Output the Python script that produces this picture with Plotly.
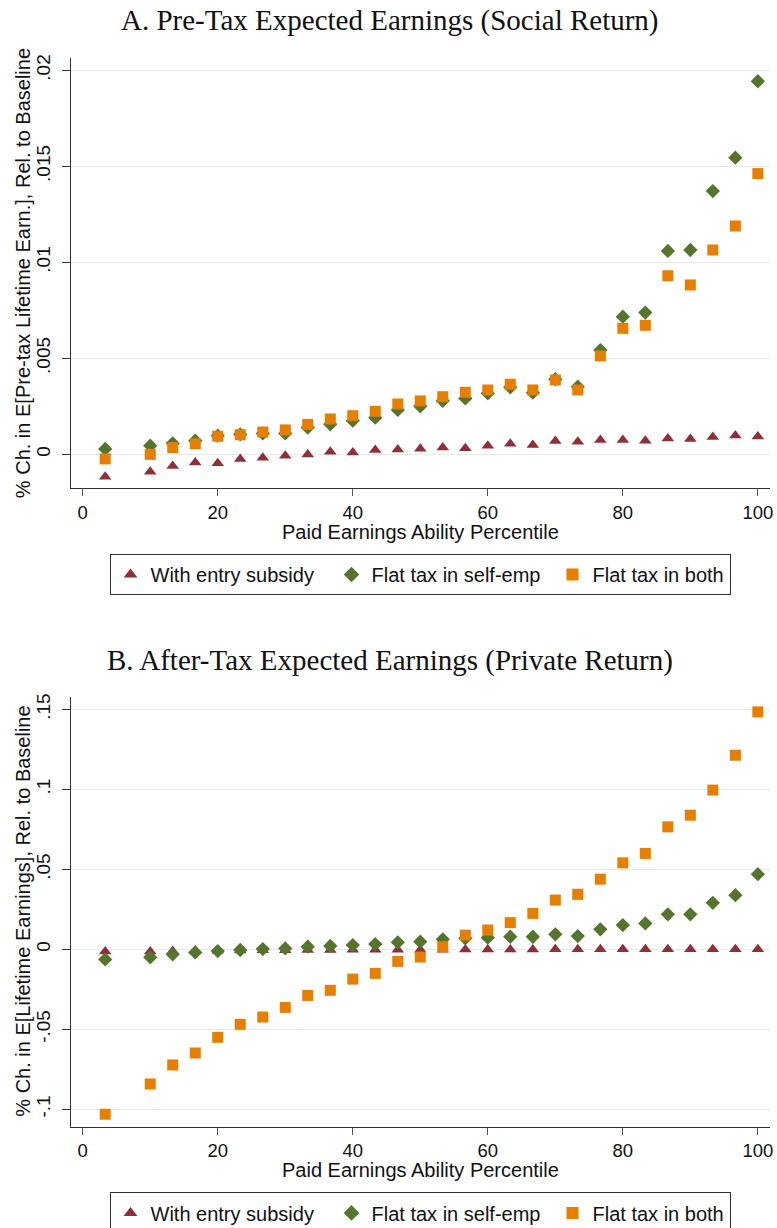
import plotly.graph_objects as go

# ---------------- data ----------------
percentile = [3.33, 10, 13.33, 16.67, 20, 23.33, 26.67, 30, 33.33, 36.67, 40, 43.33,
              46.67, 50, 53.33, 56.67, 60, 63.33, 66.67, 70, 73.33, 76.67, 80, 83.33,
              86.67, 90, 93.33, 96.67, 100]

series_names = ["With entry subsidy", "Flat tax in self-emp", "Flat tax in both"]

# Panel A: pre-tax expected earnings (social return)
subsidy_A = [-0.00117, -0.00091, -0.00061, -0.00042, -0.00047, -0.00025, -0.00018, -0.00007,
             -0.00001, 0.00013, 0.00010, 0.00022, 0.00025, 0.00029, 0.00036, 0.00031, 0.00045,
             0.00055, 0.00048, 0.00069, 0.00065, 0.00074, 0.00074, 0.00071, 0.00083, 0.00080,
             0.00090, 0.00098, 0.00093]
selfemp_A = [0.00028, 0.00045, 0.00057, 0.00071, 0.00097, 0.00104, 0.00109, 0.00109, 0.00139,
             0.00156, 0.00175, 0.00191, 0.00231, 0.00250, 0.00279, 0.00291, 0.00318, 0.00349,
             0.00321, 0.00391, 0.00352, 0.00543, 0.00717, 0.00738, 0.01059, 0.01064, 0.01371,
             0.01545, 0.01943]
both_A = [-0.00024, 0.00000, 0.00035, 0.00055, 0.00094, 0.00102, 0.00116, 0.00127, 0.00156,
          0.00184, 0.00201, 0.00224, 0.00262, 0.00278, 0.00300, 0.00323, 0.00335, 0.00365,
          0.00335, 0.00387, 0.00335, 0.00512, 0.00656, 0.00672, 0.00930, 0.00882, 0.01064,
          0.01189, 0.01462]

# Panel B: after-tax expected earnings (private return)
subsidy_B = [-0.0014, -0.0013, -0.0011, -0.0009, -0.0008, -0.0007, -0.0006, -0.0005, -0.0004,
             -0.0004, -0.0003, -0.0003, -0.0002, -0.0002, -0.0002, -0.0001, -0.0001, -0.0001,
             -0.0001, 0.0000, 0.0000, 0.0000, 0.0000, 0.0000, 0.0000, 0.0000, 0.0001,
             0.0001, 0.0001]
selfemp_B = [-0.0063, -0.0050, -0.0031, -0.0019, -0.0011, -0.0004, 0.0002, 0.0006, 0.0017,
             0.0021, 0.0027, 0.0033, 0.0044, 0.0048, 0.0063, 0.0069, 0.0073, 0.0079, 0.0079,
             0.0094, 0.0083, 0.0125, 0.0152, 0.0162, 0.0219, 0.0219, 0.0291, 0.0339, 0.0470]
both_B = [-0.1031, -0.0842, -0.0723, -0.0648, -0.0550, -0.0469, -0.0423, -0.0363, -0.0288,
          -0.0256, -0.0186, -0.0150, -0.0075, -0.0048, 0.0016, 0.0089, 0.0121, 0.0167, 0.0225,
          0.0308, 0.0344, 0.0439, 0.0541, 0.0600, 0.0766, 0.0839, 0.0996, 0.1214, 0.1485]

x_ticks = [0, 20, 40, 60, 80, 100]
yA_ticks = [0, 0.005, 0.01, 0.015, 0.02]
yA_labels = ["0", ".005", ".01", ".015", ".02"]
yB_ticks = [-0.1, -0.05, 0, 0.05, 0.1, 0.15]
yB_labels = ["-.1", "-.05", "0", ".05", ".1", ".15"]

titleA = "A. Pre-Tax Expected Earnings (Social Return)"
titleB = "B. After-Tax Expected Earnings (Private Return)"
ytitleA = "% Ch. in E[Pre-tax Lifetime Earn.], Rel. to Baseline"
ytitleB = "% Ch. in E[Lifetime Earnings], Rel. to Baseline"
xtitle = "Paid Earnings Ability Percentile"

# ---------------- style ----------------
W, H = 777, 1228
colors = ["#8f3039", "#55752f", "#e67e00"]
symbols = ["triangle-up", "diamond", "square"]
msizes = [11, 11, 11]
entry_w = [176, 176, 132]
SANS = "Liberation Sans, Arial, sans-serif"
SERIF = "Liberation Serif, Times New Roman, serif"

def px_x(p):
    return p / W

def px_y(p):
    return 1 - p / H

fig = go.Figure()

panels = [
    (("x", "y"), "legend", [subsidy_A, selfemp_A, both_A]),
    (("x2", "y2"), "legend2", [subsidy_B, selfemp_B, both_B]),
]
for (xa, ya), leg, ser in panels:
    for name, vals, c, s, ms, ew in zip(series_names, ser, colors, symbols, msizes, entry_w):
        fig.add_trace(go.Scatter(
            x=percentile, y=vals, mode="markers", name=name,
            xaxis=xa, yaxis=ya, legend=leg, legendwidth=ew,
            marker=dict(symbol=s, color=c, size=ms, line=dict(width=0)),
            cliponaxis=False,
        ))

xdom = [px_x(70.7), px_x(770)]
common_x = dict(
    range=[-1.78, 101.8], tickmode="array", tickvals=x_ticks, automargin=False,
    showgrid=False, zeroline=False, showline=True, linecolor="#333", linewidth=1.3,
    ticks="outside", ticklen=7, tickcolor="#555", tickwidth=1.3,
    tickfont=dict(family=SANS, size=18.5, color="#111"),
)
common_y = dict(
    tickmode="array", showgrid=True, gridcolor="#e3ecef", gridwidth=1.2, automargin=False,
    zeroline=False, showline=True, linecolor="#333", linewidth=1.3,
    ticks="outside", ticklen=8, tickcolor="#333", tickwidth=1.3, tickangle=-90,
    ticklabelstandoff=4,
    tickfont=dict(family=SANS, size=19, color="#111"),
)

legend_common = dict(orientation="h", xanchor="left", yanchor="top",
                     bordercolor="#333", borderwidth=1, bgcolor="white",
                     font=dict(family=SANS, size=20, color="#111"),
                     entrywidthmode="pixels", itemsizing="constant")

fig.update_layout(
    width=W, height=H, margin=dict(l=0, r=0, t=0, b=0, autoexpand=False),
    paper_bgcolor="white", plot_bgcolor="white",
    xaxis=dict(domain=xdom, anchor="y", **common_x),
    yaxis=dict(domain=[px_y(488.3), px_y(58)], anchor="x", range=[-0.00177, 0.02064],
               tickvals=yA_ticks, ticktext=yA_labels, **common_y),
    xaxis2=dict(domain=xdom, anchor="y2", **common_x),
    yaxis2=dict(domain=[px_y(1126.7), px_y(696.7)], anchor="x2", range=[-0.1109, 0.158],
                tickvals=yB_ticks, ticktext=yB_labels, **common_y),
    legend=dict(x=px_x(109.5), y=px_y(554), **legend_common),
    legend2=dict(x=px_x(109.5), y=px_y(1192.4), **legend_common),
    showlegend=True,
)

ann = []
# panel titles
ann.append(dict(text=titleA, x=px_x(390), y=px_y(20), xref="paper", yref="paper",
                xanchor="center", yanchor="middle", showarrow=False,
                font=dict(family=SERIF, size=29, color="#111")))
ann.append(dict(text=titleB, x=px_x(390), y=px_y(660), xref="paper", yref="paper",
                xanchor="center", yanchor="middle", showarrow=False,
                font=dict(family=SERIF, size=29, color="#111")))
# y titles
ann.append(dict(text=ytitleA, x=px_x(23), y=px_y((58 + 488.3) / 2), xref="paper", yref="paper",
                xanchor="center", yanchor="middle", textangle=-90, showarrow=False,
                font=dict(family=SANS, size=20, color="#111")))
ann.append(dict(text=ytitleB, x=px_x(23), y=px_y((696.7 + 1126.7) / 2), xref="paper", yref="paper",
                xanchor="center", yanchor="middle", textangle=-90, showarrow=False,
                font=dict(family=SANS, size=20, color="#111")))
# x titles
ann.append(dict(text=xtitle, x=px_x(420.3), y=px_y(531.5), xref="paper", yref="paper",
                xanchor="center", yanchor="middle", showarrow=False,
                font=dict(family=SANS, size=20, color="#111")))
ann.append(dict(text=xtitle, x=px_x(420.3), y=px_y(1169.9), xref="paper", yref="paper",
                xanchor="center", yanchor="middle", showarrow=False,
                font=dict(family=SANS, size=20, color="#111")))
fig.update_layout(annotations=ann)

fig.write_html("out.html", config={"displayModeBar": False},
               post_script="document.body.style.margin='0px';")
